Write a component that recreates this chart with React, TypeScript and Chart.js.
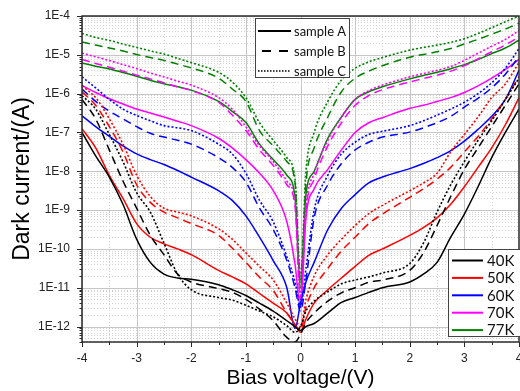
import React, { useEffect, useRef } from 'react';
import { Chart, registerables } from 'chart.js';

Chart.register(...registerables);

// Bias voltage (V) sample positions shared by all curves
const BIAS = [-4, -3.75, -3.5, -3.25, -3, -2.75, -2.5, -2.25, -2, -1.5, -1.25, -1, -0.75, -0.5, -0.25, -0.1, 0, 0.1, 0.25, 0.5, 0.75, 1, 1.25, 1.5, 2, 2.25, 2.5, 2.75, 3, 3.25, 3.5, 3.75, 4];

// Dark current (A) — 40K
const K40_A = [1e-7, 2.5e-8, 7.1e-9, 1.41e-9, 1.78e-10, 4.5e-11, 2.24e-11, 1.78e-11, 1.66e-11, 1.2e-11, 8.9e-12, 6.3e-12, 4.0e-12, 2.5e-12, 1.41e-12, 1e-12, 7.9e-13, 1e-12, 1.2e-12, 2.24e-12, 4.2e-12, 5.6e-12, 7.6e-12, 1e-11, 1.41e-11, 2.24e-11, 4.5e-11, 2.0e-10, 7.9e-10, 4.0e-9, 2.24e-8, 1e-7, 4.0e-7];
const K40_B = [7.1e-7, 2.24e-7, 3.55e-8, 5.6e-9, 1.12e-9, 2.24e-10, 7.1e-11, 2.24e-11, 1.41e-11, 9.5e-12, 7.6e-12, 5.0e-12, 2.8e-12, 1.41e-12, 5.25e-13, 4.0e-13, 6.3e-13, 1.26e-12, 2.24e-12, 4.5e-12, 7.4e-12, 1e-11, 1.38e-11, 1.58e-11, 2.8e-11, 7.9e-11, 4.0e-10, 2.24e-9, 1.12e-8, 4.0e-8, 1.41e-7, 5.0e-7, 1.78e-6];
const K40_C = [8.9e-7, 4.0e-7, 8.9e-8, 1.78e-8, 2.8e-9, 8.9e-10, 1.41e-10, 2.24e-11, 8.9e-12, 5.6e-12, 4.8e-12, 3.55e-12, 2.5e-12, 1.78e-12, 1.05e-12, 7.1e-13, 1e-12, 2.5e-12, 4.5e-12, 7.9e-12, 1.26e-11, 1.58e-11, 1.9e-11, 2.4e-11, 4.2e-11, 1.41e-10, 8.9e-10, 4.5e-9, 1.78e-8, 6.3e-8, 2.0e-7, 7.1e-7, 2.5e-6];

// 50K
const K50_A = [1.26e-7, 4.0e-8, 7.9e-9, 2.0e-9, 4.5e-10, 2.0e-10, 1.35e-10, 1e-10, 7.1e-11, 2.8e-11, 1.9e-11, 1.26e-11, 7.1e-12, 4.0e-12, 2.24e-12, 1.12e-12, 7.1e-13, 1.58e-12, 4.0e-12, 8.9e-12, 1.78e-11, 3.55e-11, 6.8e-11, 1e-10, 2.24e-10, 3.55e-10, 6.3e-10, 1.41e-9, 4.0e-9, 1.26e-8, 4.0e-8, 1.58e-7, 7.9e-7];
const K50_B = [1.12e-6, 5.0e-7, 1.41e-7, 3.16e-8, 4.5e-9, 1.58e-9, 8.9e-10, 6.3e-10, 4.5e-10, 2.24e-10, 1.05e-10, 4.5e-11, 1.86e-11, 8.5e-12, 2.24e-12, 1.12e-12, 7.9e-13, 3.16e-12, 1e-11, 3.16e-11, 8.9e-11, 2.0e-10, 4.5e-10, 7.9e-10, 2.14e-9, 3.55e-9, 6.3e-9, 1.26e-8, 3.16e-8, 7.9e-8, 2.24e-7, 7.1e-7, 2.8e-6];
const K50_C = [1.58e-6, 7.9e-7, 2.24e-7, 5.0e-8, 7.9e-9, 2.24e-9, 1.12e-9, 8.9e-10, 7.1e-10, 3.3e-10, 1.78e-10, 7.9e-11, 3.55e-11, 1.58e-11, 4.0e-12, 1.58e-12, 1e-12, 5.0e-12, 2.0e-11, 7.1e-11, 1.78e-10, 4.0e-10, 8.1e-10, 1.32e-9, 3.16e-9, 5.0e-9, 8.9e-9, 3.16e-8, 8.9e-8, 2.5e-7, 7.9e-7, 1.78e-6, 6.3e-6];

// 60K
const K60_A = [2.7e-7, 1.41e-7, 7.9e-8, 4.5e-8, 2.8e-8, 2.0e-8, 1.5e-8, 1.05e-8, 7.1e-9, 3.16e-9, 1.78e-9, 7.1e-10, 2.0e-10, 5.0e-11, 1e-11, 8.9e-13, 4.0e-12, 1.41e-11, 4.5e-11, 3.16e-10, 1.12e-9, 2.5e-9, 5.0e-9, 7.1e-9, 1.17e-8, 1.58e-8, 2.24e-8, 3.4e-8, 6.0e-8, 1.2e-7, 2.6e-7, 7.1e-7, 4.0e-6];
const K60_B = [1.32e-6, 6.3e-7, 3.55e-7, 2.24e-7, 1.41e-7, 9.5e-8, 7.6e-8, 6.3e-8, 5.0e-8, 2.24e-8, 1.26e-8, 5.25e-9, 1.12e-9, 3.16e-10, 5.0e-11, 1e-11, 2.5e-12, 1.58e-11, 6.3e-10, 4.5e-9, 1.58e-8, 3.55e-8, 5.6e-8, 7.6e-8, 1.02e-7, 1.32e-7, 1.78e-7, 2.6e-7, 4.5e-7, 7.6e-7, 1.41e-6, 3.16e-6, 8.9e-6];
const K60_C = [2.7e-6, 1.41e-6, 7.1e-7, 4.0e-7, 2.75e-7, 2.0e-7, 1.5e-7, 1.32e-7, 1.12e-7, 5.0e-8, 2.8e-8, 8.9e-9, 1.78e-9, 5.0e-10, 6.3e-11, 1.41e-11, 3.16e-12, 3.16e-11, 1e-9, 7.9e-9, 2.8e-8, 5.6e-8, 8.9e-8, 1.07e-7, 1.5e-7, 2.0e-7, 2.8e-7, 4.0e-7, 6.0e-7, 1e-6, 1.9e-6, 4.5e-6, 1.45e-5];

// 70K
const K70_A = [1.62e-6, 1.07e-6, 7.4e-7, 5.4e-7, 4.0e-7, 3.16e-7, 2.5e-7, 1.95e-7, 1.5e-7, 7.1e-8, 4.0e-8, 2.0e-8, 8.9e-9, 3.16e-9, 5.0e-10, 4.0e-11, 3.16e-12, 6.3e-10, 3.55e-9, 1.12e-8, 3.55e-8, 1e-7, 1.78e-7, 2.4e-7, 4.2e-7, 5.0e-7, 6.3e-7, 7.9e-7, 1.07e-6, 1.58e-6, 2.5e-6, 4.2e-6, 7.6e-6];
const K70_B = [7.6e-6, 6.0e-6, 4.8e-6, 3.8e-6, 3.0e-6, 2.4e-6, 1.9e-6, 1.5e-6, 1.2e-6, 6.0e-7, 2.8e-7, 1.12e-7, 3.55e-8, 1.41e-8, 4.5e-9, 1.26e-9, 5.0e-12, 1e-9, 6.3e-9, 4.5e-8, 1.78e-7, 5.0e-7, 8.9e-7, 1.26e-6, 2.0e-6, 2.45e-6, 3.0e-6, 3.8e-6, 5.25e-6, 7.9e-6, 1.2e-5, 1.8e-5, 2.9e-5];
const K70_C = [1.1e-5, 8.9e-6, 7.1e-6, 5.6e-6, 4.4e-6, 3.4e-6, 2.7e-6, 2.1e-6, 1.66e-6, 7.9e-7, 4.0e-7, 1.41e-7, 4.5e-8, 1.78e-8, 5.6e-9, 1.58e-9, 6.3e-12, 1.26e-9, 8.9e-9, 6.3e-8, 2.5e-7, 7.1e-7, 1.2e-6, 1.66e-6, 2.7e-6, 3.3e-6, 4.0e-6, 5.0e-6, 7.2e-6, 1.1e-5, 1.66e-5, 2.5e-5, 4.2e-5];

// 77K
const K77_A = [6.2e-6, 5.1e-6, 4.3e-6, 3.5e-6, 2.8e-6, 2.2e-6, 1.8e-6, 1.5e-6, 1.23e-6, 6.3e-7, 3.5e-7, 1.8e-7, 5.0e-8, 2.0e-8, 7.9e-9, 2.2e-9, 1e-11, 2.5e-9, 1e-8, 7.1e-8, 2.5e-7, 7.1e-7, 1.12e-6, 1.5e-6, 2.4e-6, 2.95e-6, 3.55e-6, 4.4e-6, 5.6e-6, 7.6e-6, 1.07e-5, 1.5e-5, 2.4e-5];
const K77_B = [2.15e-5, 1.78e-5, 1.5e-5, 1.26e-5, 1.02e-5, 8.5e-6, 7.2e-6, 5.75e-6, 4.6e-6, 2.5e-6, 1.32e-6, 6.3e-7, 1.12e-7, 4.5e-8, 1.78e-8, 5.0e-9, 1.26e-11, 5.0e-9, 4.0e-8, 2.5e-7, 1.12e-6, 2.5e-6, 3.8e-6, 5.25e-6, 8.7e-6, 1.02e-5, 1.2e-5, 1.45e-5, 1.9e-5, 2.5e-5, 3.4e-5, 4.6e-5, 6.5e-5];
const K77_C = [3.55e-5, 2.8e-5, 2.35e-5, 1.9e-5, 1.55e-5, 1.26e-5, 1.05e-5, 8.1e-6, 6.3e-6, 3.55e-6, 2.0e-6, 7.9e-7, 1.78e-7, 6.3e-8, 2.24e-8, 6.3e-9, 2.0e-11, 1e-8, 1e-7, 6.3e-7, 2.24e-6, 4.5e-6, 6.6e-6, 8.5e-6, 1.32e-5, 1.55e-5, 1.78e-5, 2.1e-5, 2.6e-5, 3.55e-5, 5.0e-5, 7.1e-5, 1.0e-4];

const TEMPS = ['40K', '50K', '60K', '70K', '77K'];
const TEMP_COLORS = ['#000000', '#ff0000', '#0000ff', '#ff00ff', '#008000'];
const SAMPLES = ['sample A', 'sample B', 'sample C'];
const CURVES = [
  [K40_A, K40_B, K40_C],
  [K50_A, K50_B, K50_C],
  [K60_A, K60_B, K60_C],
  [K70_A, K70_B, K70_C],
  [K77_A, K77_B, K77_C],
];

const X_TICKS = [-4, -3, -2, -1, 0, 1, 2, 3, 4];
const X_MINOR = [-3.5, -2.5, -1.5, -0.5, 0.5, 1.5, 2.5, 3.5];
const Y_TICKS = [1e-12, 1e-11, 1e-10, 1e-9, 1e-8, 1e-7, 1e-6, 1e-5, 1e-4];
const Y_TICK_LABELS = ['1E-12', '1E-11', '1E-10', '1E-9', '1E-8', '1E-7', '1E-6', '1E-5', '1E-4'];
const Y_MIN = 4e-13;
const Y_MAX = 1e-4;

const DASHES = [[], [8, 5], [2, 2]];
const SANS = "'Liberation Sans', Arial, sans-serif";
const LEG_FONT = "Lato, 'Liberation Sans', sans-serif";

const decor = {
  id: 'decor',
  beforeDatasetsDraw(chart: any) {
    const { ctx, chartArea: a, scales } = chart;
    const xs = scales.x;
    const ys = scales.y;
    ctx.save();
    ctx.beginPath();
    ctx.rect(a.left, a.top, a.right - a.left, a.bottom - a.top);
    ctx.clip();
    ctx.lineWidth = 1;
    // minor grid
    ctx.strokeStyle = '#d2d2d2';
    ctx.setLineDash([1, 2]);
    ctx.beginPath();
    for (const v of X_MINOR) {
      const px = Math.round(xs.getPixelForValue(v)) + 0.5;
      ctx.moveTo(px, a.top);
      ctx.lineTo(px, a.bottom);
    }
    for (let i = 0; i < Y_TICKS.length; i++) {
      const base = Y_TICKS[i] / 10;
      for (let m = 2; m <= 9; m++) {
        const val = base * m;
        if (val < Y_MIN || val > Y_MAX) continue;
        const py = Math.round(ys.getPixelForValue(val)) + 0.5;
        ctx.moveTo(a.left, py);
        ctx.lineTo(a.right, py);
      }
    }
    ctx.stroke();
    // major grid
    ctx.setLineDash([]);
    ctx.strokeStyle = '#c6c6c6';
    ctx.beginPath();
    for (const v of X_TICKS) {
      const px = Math.round(xs.getPixelForValue(v)) + 0.5;
      ctx.moveTo(px, a.top);
      ctx.lineTo(px, a.bottom);
    }
    for (const v of Y_TICKS) {
      const py = Math.round(ys.getPixelForValue(v)) + 0.5;
      ctx.moveTo(a.left, py);
      ctx.lineTo(a.right, py);
    }
    ctx.stroke();
    ctx.restore();
  },
  afterDatasetsDraw(chart: any) {
    const { ctx, chartArea: a, scales } = chart;
    const xs = scales.x;
    const ys = scales.y;
    ctx.save();
    // frame
    ctx.strokeStyle = '#2a2a2a';
    ctx.lineWidth = 1.5;
    ctx.setLineDash([]);
    ctx.strokeRect(a.left, a.top, a.right - a.left, a.bottom - a.top);
    // tick marks
    ctx.lineWidth = 1;
    ctx.beginPath();
    for (const v of X_TICKS) {
      const px = Math.round(xs.getPixelForValue(v)) + 0.5;
      ctx.moveTo(px, a.bottom);
      ctx.lineTo(px, a.bottom + 5);
    }
    for (const v of X_MINOR) {
      const px = Math.round(xs.getPixelForValue(v)) + 0.5;
      ctx.moveTo(px, a.bottom);
      ctx.lineTo(px, a.bottom + 3);
    }
    for (const v of Y_TICKS) {
      const py = Math.round(ys.getPixelForValue(v)) + 0.5;
      ctx.moveTo(a.left, py);
      ctx.lineTo(a.left - 5, py);
    }
    for (let i = 0; i < Y_TICKS.length; i++) {
      const base = Y_TICKS[i] / 10;
      for (let m = 2; m <= 9; m++) {
        const val = base * m;
        if (val < Y_MIN || val > Y_MAX) continue;
        const py = Math.round(ys.getPixelForValue(val)) + 0.5;
        ctx.moveTo(a.left, py);
        ctx.lineTo(a.left - 2.5, py);
      }
    }
    ctx.stroke();

    // sample legend (line styles)
    ctx.fillStyle = '#ffffff';
    ctx.fillRect(255.5, 18.5, 94, 59);
    ctx.strokeStyle = '#444';
    ctx.lineWidth = 1;
    ctx.strokeRect(255.5, 18.5, 94, 59);
    ctx.font = `13px ${LEG_FONT}`;
    ctx.textBaseline = 'middle';
    ctx.textAlign = 'left';
    SAMPLES.forEach((name, i) => {
      const yy = 31 + i * 20;
      ctx.strokeStyle = '#000';
      ctx.lineWidth = i === 2 ? 1.5 : 2;
      ctx.setLineDash(i === 1 ? [9, 8] : i === 2 ? [1.5, 1.5] : []);
      ctx.lineDashOffset = i === 1 ? -4 : 0;
      ctx.beginPath();
      ctx.moveTo(258, yy);
      ctx.lineTo(291, yy);
      ctx.stroke();
      ctx.setLineDash([]);
      ctx.lineDashOffset = 0;
      ctx.fillStyle = '#111';
      ctx.fillText(name, 294, yy + 0.5);
    });

    // temperature legend (colours)
    ctx.fillStyle = '#ffffff';
    ctx.fillRect(448.5, 249.5, 72, 87);
    ctx.strokeStyle = '#444';
    ctx.lineWidth = 1;
    ctx.strokeRect(448.5, 249.5, 72, 87);
    ctx.font = `15px ${LEG_FONT}`;
    TEMPS.forEach((t, i) => {
      const yy = 260.5 + i * 17.4;
      ctx.strokeStyle = TEMP_COLORS[i];
      ctx.lineWidth = 2;
      ctx.beginPath();
      ctx.moveTo(452, yy);
      ctx.lineTo(483, yy);
      ctx.stroke();
      ctx.fillStyle = '#111';
      ctx.fillText(t, 487, yy + 0.5);
    });
    ctx.restore();
  },
};

export default function App() {
  const ref = useRef<HTMLCanvasElement | null>(null);

  useEffect(() => {
    if (!ref.current) return;
    const datasets: any[] = [];
    CURVES.forEach((group, ti) => {
      group.forEach((vals, si) => {
        datasets.push({
          label: `${TEMPS[ti]} ${SAMPLES[si]}`,
          data: BIAS.map((x, i) => ({ x, y: vals[i] })),
          borderColor: TEMP_COLORS[ti],
          backgroundColor: TEMP_COLORS[ti],
          borderWidth: si === 2 ? 1.6 : 1.5,
          borderDash: DASHES[si],
          pointRadius: 0,
          cubicInterpolationMode: 'monotone',
          fill: false,
        });
      });
    });

    const chart = new Chart(ref.current, {
      type: 'line',
      data: { datasets },
      options: {
        responsive: false,
        animation: false,
        maintainAspectRatio: false,
        layout: { padding: { top: 16, right: 1, left: 0, bottom: 0 } },
        plugins: { legend: { display: false }, tooltip: { enabled: false } },
        scales: {
          x: {
            type: 'linear',
            min: -4,
            max: 4,
            grid: { display: false, drawTicks: false },
            border: { display: false },
            afterBuildTicks: (s: any) => {
              s.ticks = X_TICKS.map((v) => ({ value: v }));
            },
            afterFit: (s: any) => {
              s.height = 49;
              s.paddingLeft = 0;
              s.paddingRight = 0;
            },
            ticks: {
              autoSkip: false,
              maxRotation: 0,
              padding: 9,
              color: '#222',
              font: { family: SANS, size: 12 },
              callback: (v: any) => String(v),
            },
            title: {
              display: true,
              text: 'Bias voltage/(V)',
              color: '#000',
              font: { family: SANS, size: 21 },
              padding: { top: 0, bottom: 0 },
            },
          },
          y: {
            type: 'logarithmic',
            min: Y_MIN,
            max: Y_MAX,
            grid: { display: false, drawTicks: false },
            border: { display: false },
            afterBuildTicks: (s: any) => {
              s.ticks = Y_TICKS.map((v) => ({ value: v, major: true }));
            },
            afterFit: (s: any) => {
              s.width = 82;
              s.paddingTop = 0;
              s.paddingBottom = 0;
            },
            ticks: {
              autoSkip: false,
              padding: 12,
              color: '#222',
              font: { family: SANS, size: 12 },
              callback: (_v: any, i: number) => Y_TICK_LABELS[i],
            },
            title: {
              display: true,
              text: 'Dark current/(A)',
              color: '#000',
              font: { family: SANS, size: 23 },
              padding: { top: 9, bottom: 0 },
            },
          },
        },
      },
      plugins: [decor],
    } as any);

    return () => chart.destroy();
  }, []);

  return (
    <div style={{ position: 'fixed', left: 0, top: 0, width: 520, height: 391, background: '#fff' }}>
      <canvas ref={ref} width={520} height={391} style={{ display: 'block', width: 520, height: 391 }} />
    </div>
  );
}
